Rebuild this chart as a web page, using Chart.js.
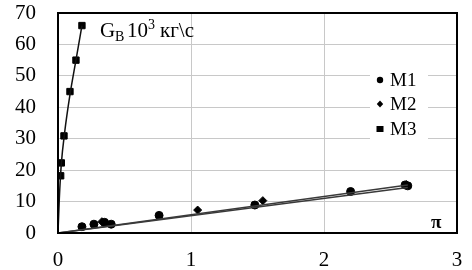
<!DOCTYPE html>
<html><head><meta charset="utf-8">
<script src="https://cdn.jsdelivr.net/npm/chart.js@4/dist/chart.umd.min.js"></script>
<style>html,body{margin:0;padding:0;background:#fff;}#c{display:block;}</style>
</head><body>
<div style="width:472px;height:270px"><canvas id="c" width="472" height="270"></canvas></div>
<script>
const xTicks = [0, 1, 2, 3];
const yTicks = [0, 10, 20, 30, 40, 50, 60, 70];
const seriesNames = ['M1', 'M2', 'M3'];
const m1X = [0.18, 0.27, 0.35, 0.40, 0.76, 1.48, 2.20, 2.61, 2.63];
const m1Y = [2.0, 2.8, 3.4, 2.8, 5.6, 8.9, 13.2, 15.3, 15.0];
const m2X = [0.33, 1.05, 1.54, 2.62];
const m2Y = [3.6, 7.3, 10.3, 15.4];
const m3X = [0.02, 0.025, 0.045, 0.09, 0.135, 0.18];
const m3Y = [18.2, 22.3, 30.9, 45.0, 55.0, 66.0];
const m1TrendX = [0, 2.63];
const m1TrendY = [0, 14.5];
const m2TrendX = [0, 2.63];
const m2TrendY = [0, 15.3];
const m3TrendX = [0, 0.01, 0.025, 0.05, 0.09, 0.135, 0.18];
const m3TrendY = [0, 11, 22, 32, 44, 55, 66];

const pts = (xs, ys) => xs.map((x, i) => ({x, y: ys[i]}));

const frame = {
  id: 'frame',
  afterDraw(chart) {
    const {ctx, chartArea: a} = chart;
    ctx.save();
    ctx.setLineDash([]);
    ctx.strokeStyle = '#000';
    ctx.lineWidth = 2;
    ctx.strokeRect(a.left, a.top, a.right - a.left, a.bottom - a.top);
    // legend
    ctx.fillStyle = '#fff';
    ctx.fillRect(370, 66, 58, 76);
    ctx.fillStyle = '#000';
    const mx = 380;
    ctx.beginPath(); ctx.arc(mx, 80, 3.2, 0, Math.PI * 2); ctx.fill();
    ctx.beginPath(); ctx.moveTo(mx, 100.5); ctx.lineTo(mx + 3.2, 104); ctx.lineTo(mx, 107.5); ctx.lineTo(mx - 3.2, 104); ctx.closePath(); ctx.fill();
    ctx.fillRect(mx - 3.5, 126, 7, 6);
    ctx.font = '19px "Liberation Serif"';
    ctx.textBaseline = 'middle';
    [80, 104, 129].forEach((y, i) => ctx.fillText(seriesNames[i], 390, y + 1));
    // annotations
    ctx.textBaseline = 'alphabetic';
    ctx.font = '21px "Liberation Serif"';
    ctx.fillText('G', 100, 37);
    ctx.font = '14px "Liberation Serif"';
    ctx.fillText('B', 115, 41);
    ctx.font = '21px "Liberation Serif"';
    ctx.fillText('10', 127, 37);
    ctx.font = '14px "Liberation Serif"';
    ctx.fillText('3', 148, 29);
    ctx.font = '21px "Liberation Serif"';
    ctx.fillText('кг\\c', 160, 37);
    ctx.font = 'bold 19px "Liberation Serif"';
    ctx.fillText('π', 431, 228);
    ctx.restore();
  }
};

new Chart(document.getElementById('c'), {
  type: 'scatter',
  data: {
    datasets: [
      {label: 'M1 trend', data: pts(m1TrendX, m1TrendY), showLine: true, borderColor: '#3a3a3a', borderWidth: 1.5, pointRadius: 0},
      {label: 'M2 trend', data: pts(m2TrendX, m2TrendY), showLine: true, borderColor: '#3a3a3a', borderWidth: 1.5, pointRadius: 0},
      {label: 'M3 trend', data: pts(m3TrendX, m3TrendY), showLine: true, borderColor: '#111', borderWidth: 1.5, pointRadius: 0, tension: 0.4, cubicInterpolationMode: 'monotone'},
      {label: seriesNames[0], data: pts(m1X, m1Y), pointStyle: 'circle', pointRadius: 4, backgroundColor: '#000', borderColor: '#000'},
      {label: seriesNames[1], data: pts(m2X, m2Y), pointStyle: 'rectRot', pointRadius: 4, backgroundColor: '#000', borderColor: '#000'},
      {label: seriesNames[2], data: pts(m3X, m3Y), pointStyle: 'rect', pointRadius: 4.5, backgroundColor: '#000', borderColor: '#000'}
    ]
  },
  options: {
    responsive: false,
    animation: false,
    layout: {padding: {left: 0, right: 15, top: 13, bottom: 0}},
    plugins: {legend: {display: false}, tooltip: {enabled: false}},
    scales: {
      x: {
        type: 'linear', min: 0, max: 3,
        afterBuildTicks: s => { s.ticks = xTicks.map(v => ({value: v})); },
        afterFit: s => { s.height = 37; s.paddingLeft = 0; s.paddingRight = 0; },
        grid: {color: '#c8c8c8', drawTicks: false},
        border: {display: false},
        ticks: {font: {family: 'Liberation Serif', size: 21}, color: '#000', padding: 15, maxRotation: 0}
      },
      y: {
        type: 'linear', min: 0, max: 70,
        afterBuildTicks: s => { s.ticks = yTicks.map(v => ({value: v})); },
        afterFit: s => { s.width = 58; s.paddingTop = 0; s.paddingBottom = 0; },
        grid: {color: '#c8c8c8', drawTicks: false},
        border: {display: false},
        ticks: {font: {family: 'Liberation Serif', size: 21}, color: '#000', padding: 22}
      }
    }
  },
  plugins: [frame]
});
</script>
</body></html>
